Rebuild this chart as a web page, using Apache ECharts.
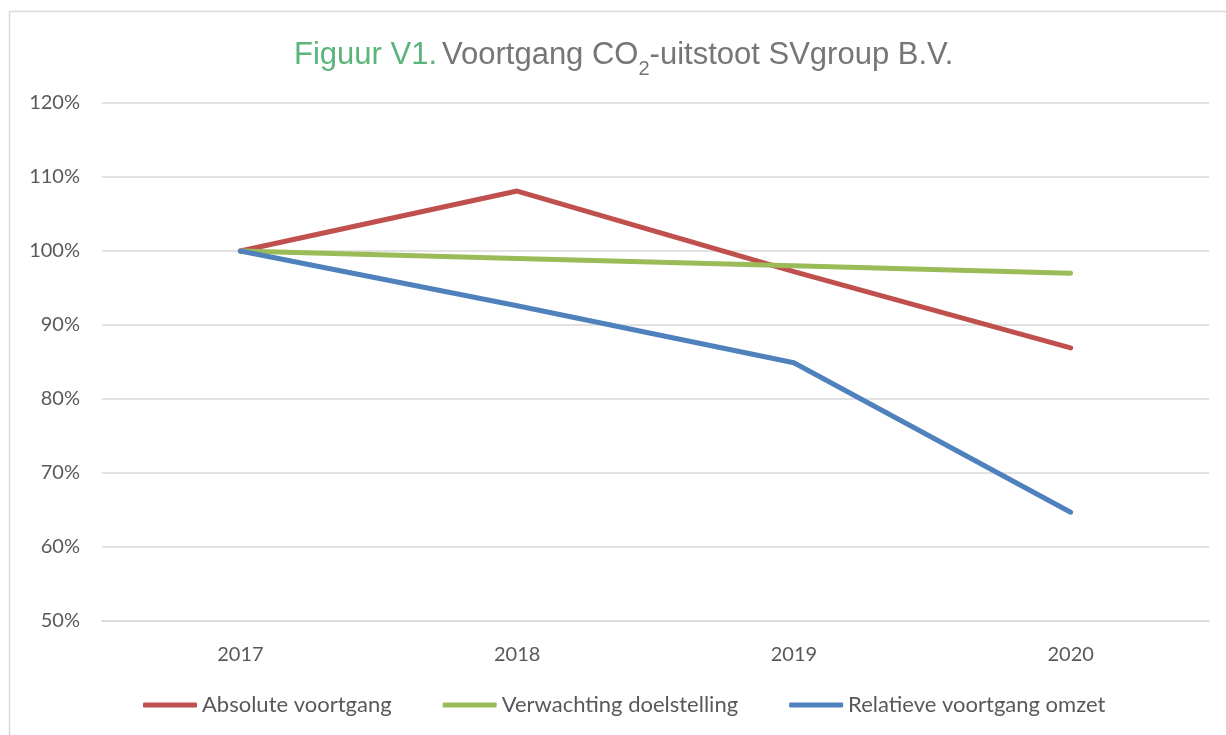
<!DOCTYPE html>
<html>
<head>
<meta charset="utf-8">
<script src="https://cdn.jsdelivr.net/npm/echarts@6/dist/echarts.min.js"></script>
<style>
  html, body { margin: 0; padding: 0; background: #ffffff; }
  #chart { width: 1226px; height: 735px; }
</style>
</head>
<body>
<div id="chart"></div>
<script>
// Years on the category axis
const years = ['2017', '2018', '2019', '2020'];

// CO2 emissions relative to 2017 (in %)
const absoluteVoortgang = [100, 108.1, 97.2, 86.9];
const verwachtingDoelstelling = [100, 99, 98, 97];
const relatieveVoortgangOmzet = [100, 92.6, 84.9, 64.7];

// Value axis range and step (in %)
const yMin = 50;
const yMax = 120;
const yStep = 10;

const seriesNames = ['Absolute voortgang', 'Verwachting doelstelling', 'Relatieve voortgang omzet'];
const seriesColors = ['#c0504d', '#9bbb59', '#4f81bd'];
const seriesData = [absoluteVoortgang, verwachtingDoelstelling, relatieveVoortgangOmzet];

const labelFont = 'Lato, "Open Sans", sans-serif';
const titleFont = '"Liberation Sans", Arial, sans-serif';
const chart = echarts.init(document.getElementById('chart'), null, { renderer: 'canvas' });

chart.setOption({
  backgroundColor: '#ffffff',
  animation: false,
  graphic: [{
    type: 'rect',
    shape: { x: 9.5, y: 11.5, width: 1240, height: 760 },
    style: { fill: 'none', stroke: '#d9d9d9', lineWidth: 1.5 },
    silent: true
  }],
  title: {
    text: '{g|Figuur V1.} {t|Voortgang CO}{s|2}{t|-uitstoot SVgroup B.V.}',
    left: 289,
    top: 30,
    textStyle: {
      fontWeight: 'normal',
      rich: {
        g: { color: '#5bb47a', fontSize: 31, fontWeight: 'normal', fontFamily: titleFont, verticalAlign: 'bottom', lineHeight: 36 },
        t: { color: '#767676', fontSize: 31, fontWeight: 'normal', fontFamily: titleFont, verticalAlign: 'bottom', lineHeight: 36 },
        s: { color: '#767676', fontSize: 20, fontWeight: 'normal', fontFamily: titleFont, verticalAlign: 'bottom', lineHeight: 36, padding: [0, 0, -8, 0] }
      }
    }
  },
  legend: {
    data: seriesNames,
    bottom: 14,
    left: 138,
    icon: 'roundRect',
    itemWidth: 54,
    itemHeight: 5,
    itemGap: 51,
    textStyle: { color: '#595959', fontSize: 22, fontFamily: labelFont }
  },
  grid: { left: 102, right: 17, top: 103, bottom: 114, containLabel: false },
  xAxis: {
    type: 'category',
    data: years,
    boundaryGap: true,
    axisLine: { show: true, lineStyle: { color: '#d9d9d9', width: 1.5 } },
    axisTick: { show: false },
    axisLabel: { color: '#595959', fontSize: 20, fontFamily: labelFont, margin: 24 }
  },
  yAxis: {
    type: 'value',
    min: yMin,
    max: yMax,
    interval: yStep,
    axisLine: { show: false },
    axisTick: { show: false },
    axisLabel: { color: '#595959', fontSize: 20, fontFamily: labelFont, margin: 22, formatter: '{value}%' },
    splitLine: { lineStyle: { color: '#d9d9d9', width: 1.5 } }
  },
  series: seriesNames.map((name, i) => ({
    name: name,
    type: 'line',
    data: seriesData[i],
    symbol: 'none',
    color: seriesColors[i],
    lineStyle: { color: seriesColors[i], width: 5, cap: 'round', join: 'round' }
  }))
});
</script>
</body>
</html>
